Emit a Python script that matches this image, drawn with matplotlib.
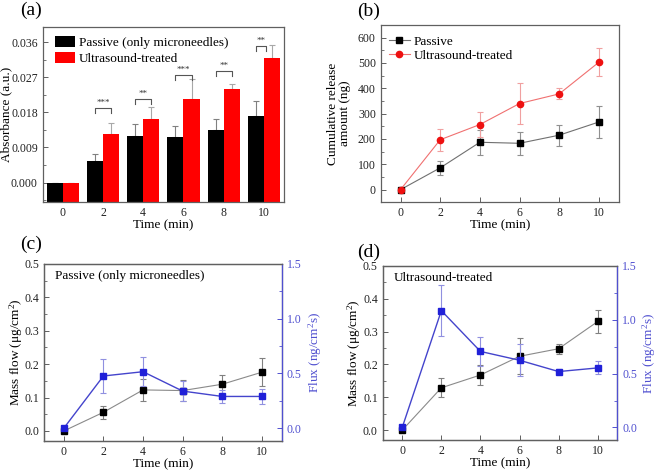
import numpy as np
import matplotlib
matplotlib.use("Agg")
import matplotlib.pyplot as plt
from matplotlib.ticker import MultipleLocator, FormatStrFormatter

plt.rcParams['font.family'] = ['Liberation Serif', 'DejaVu Serif']
plt.rcParams['mathtext.fontset'] = 'custom'
plt.rcParams['mathtext.rm'] = 'Liberation Serif'
plt.rcParams['mathtext.it'] = 'Liberation Serif:italic'
plt.rcParams['font.size'] = 8.5
plt.rcParams['xtick.direction'] = 'in'
plt.rcParams['ytick.direction'] = 'in'

# ---------------- data ----------------
time = [0, 2, 4, 6, 8, 10]
time_labels = ['0', '2', '4', '6', '8', '10']

a_passive = [0, 0.0055, 0.0119, 0.0117, 0.0136, 0.0170]
a_passive_err = [0, 0.0018, 0.0031, 0.0029, 0.0026, 0.0039]
a_us = [0, 0.0125, 0.0163, 0.0215, 0.0239, 0.0319]
a_us_err = [0, 0.0027, 0.0030, 0.0052, 0.0014, 0.0034]
sig_labels = ['', '***', '**', '***', '**', '**']
sig_heights = [None, 0.0192, 0.0214, 0.0276, 0.0286, 0.0350]

b_passive = [0, 86, 187, 183, 215, 267]
b_passive_err = [0, 27, 50, 46, 41, 63]
b_us = [0, 197, 257, 340, 378, 503]
b_us_err = [0, 44, 48, 81, 22, 56]

c_mass = [0, 0.056, 0.123, 0.121, 0.140, 0.176]
c_mass_err = [0, 0.019, 0.033, 0.032, 0.029, 0.042]
c_flux = [0, 0.477, 0.516, 0.339, 0.290, 0.290]
c_flux_err = [0, 0.156, 0.130, 0.095, 0.060, 0.070]

d_mass = [0, 0.129, 0.168, 0.225, 0.248, 0.331]
d_mass_err = [0, 0.029, 0.031, 0.055, 0.015, 0.036]
d_flux = [0, 1.085, 0.706, 0.624, 0.519, 0.553]
d_flux_err = [0, 0.240, 0.134, 0.150, 0.025, 0.060]

W, H = 657, 472
fig = plt.figure(figsize=(W / 100, H / 100), dpi=100)

def px_axes(l, t, r, b):
    return fig.add_axes([l / W, 1 - b / H, (r - l) / W, (b - t) / H])

SPINE = '#606060'
BLUE = '#2020d8'
BLUE_LINE = '#4444cc'
BLUE_AX = '#5050d0'
BLUE_ERR = '#9090e0'
LBL = 9.5
TAG = 14

def style(ax):
    for s in ax.spines.values():
        s.set_color(SPINE)
        s.set_linewidth(0.9)
    ax.tick_params(which='both', color=SPINE, labelcolor='#222222')
    ax.tick_params(which='major', length=3.5, width=0.7)
    ax.tick_params(which='minor', length=2, width=0.6)

# ---------------- (a) ----------------
ax = px_axes(42.7, 26.7, 284, 202)
ylo_a, yhi_a = -0.005, 0.040
x = np.arange(len(time))
w = 0.4
ax.bar(x - w / 2, np.array(a_passive) - ylo_a, w, bottom=ylo_a, color='black',
       label='Passive (only microneedles)', zorder=2)
ax.bar(x + w / 2, np.array(a_us) - ylo_a, w, bottom=ylo_a, color='#ff0000',
       label='Ultrasound-treated', zorder=2)
ax.errorbar(x - w / 2, a_passive, yerr=[np.zeros(len(x)), a_passive_err], fmt='none',
            ecolor='#808080', elinewidth=0.8, capsize=2.5, capthick=0.8, zorder=1)
ax.errorbar(x + w / 2, a_us, yerr=[np.zeros(len(x)), a_us_err], fmt='none',
            ecolor='#a8a8a8', elinewidth=0.8, capsize=2.5, capthick=0.8, zorder=1)
d = 0.0013
for i, (lab, hgt) in enumerate(zip(sig_labels, sig_heights)):
    if hgt is None:
        continue
    x1 = i - w / 2
    x2 = i + w / 2 if i < 5 else i + 0.05
    ax.plot([x1, x1, x2, x2], [hgt - d, hgt, hgt, hgt - d], color='#555555', lw=0.8)
    ax.text((x1 + x2) / 2, hgt + 0.0003, lab, ha='center', va='bottom', fontsize=6.5,
            color='#333333')
ax.set_xlim(-0.5, 5.5)
ax.set_ylim(ylo_a, yhi_a)
ax.set_xticks(x)
ax.set_xticklabels(time_labels)
ax.yaxis.set_major_locator(MultipleLocator(0.009))
ax.yaxis.set_minor_locator(MultipleLocator(0.0045))
ax.yaxis.set_major_formatter(FormatStrFormatter('%.3f'))
ax.set_xlabel('Time (min)', fontsize=LBL, labelpad=0)
ax.set_ylabel('Absorbance (a.u.)', fontsize=LBL)
ax.yaxis.set_label_coords(-0.128, 0.5)
style(ax)
ax.legend(loc='upper left', bbox_to_anchor=(0.02, 0.99), frameon=False, fontsize=LBL,
          handlelength=1.5, handleheight=0.9, handletextpad=0.3, labelspacing=0.2,
          borderaxespad=0.2)
fig.text(20 / W, 1 - 10 / H, '(a)', fontsize=TAG, va='center', ha='left')

# ---------------- (b) ----------------
ax = px_axes(380.7, 25, 618.7, 202.3)
ax.errorbar(time, b_passive, yerr=b_passive_err, fmt='none', ecolor='#909090',
            elinewidth=0.8, capsize=2.5, capthick=0.8, zorder=1)
ax.errorbar(time, b_us, yerr=b_us_err, fmt='none', ecolor='#f0a0a0',
            elinewidth=0.8, capsize=2.5, capthick=0.8, zorder=1)
ax.plot(time, b_passive, color='#707070', lw=0.8, marker='s', ms=4.5, mfc='black',
        mec='black', label='Passive', zorder=3)
ax.plot(time, b_us, color='#f07070', lw=0.8, marker='o', ms=4.5, mfc='#ee1010',
        mec='#ee1010', label='Ultrasound-treated', zorder=3)
ax.set_xlim(-1, 11)
ax.set_ylim(-50, 650)
ax.set_xticks(time)
ax.yaxis.set_major_locator(MultipleLocator(100))
ax.yaxis.set_minor_locator(MultipleLocator(50))
ax.set_xlabel('Time (min)', fontsize=LBL, labelpad=0)
ax.set_ylabel('Cumulative release\namount (ng)', fontsize=LBL, linespacing=1.0)
ax.yaxis.set_label_coords(-0.125, 0.5)
style(ax)
ax.legend(loc='upper left', bbox_to_anchor=(0.0, 0.985), frameon=False, fontsize=LBL,
          handlelength=1.6, handletextpad=0.3, labelspacing=0.15, borderaxespad=0.2)
fig.text(357 / W, 1 - 11 / H, '(b)', fontsize=TAG, va='center', ha='left')

# ---------------- (c), (d) ----------------
def flux_panel(box, mass, mass_err, flux, flux_err, title, tag, tagx, tagy, lx, rx):
    ax = px_axes(*box)
    ax2 = ax.twinx()
    ax.errorbar(time, mass, yerr=mass_err, fmt='none', ecolor='#808080',
                elinewidth=0.8, capsize=2.5, capthick=0.8, zorder=1)
    ax.plot(time, mass, color='#8a8a8a', lw=0.8, marker='s', ms=4, mfc='black',
            mec='black', zorder=3)
    ax2.errorbar(time, flux, yerr=flux_err, fmt='none', ecolor=BLUE_ERR,
                 elinewidth=0.8, capsize=2.5, capthick=0.8, zorder=1)
    ax2.plot(time, flux, color=BLUE_LINE, lw=1.0, marker='s', ms=4, mfc=BLUE,
             mec=BLUE, zorder=3)
    ax.set_xlim(-1, 11)
    ax.set_ylim(-0.03, 0.5)
    ax2.set_ylim(-0.117, 1.5)
    ax.set_xticks(time)
    ax.yaxis.set_major_locator(MultipleLocator(0.1))
    ax.yaxis.set_minor_locator(MultipleLocator(0.05))
    ax2.yaxis.set_major_locator(MultipleLocator(0.5))
    ax2.yaxis.set_minor_locator(MultipleLocator(0.25))
    ax.yaxis.set_major_formatter(FormatStrFormatter('%.1f'))
    ax2.yaxis.set_major_formatter(FormatStrFormatter('%.1f'))
    ax.set_xlabel('Time (min)', fontsize=LBL, labelpad=0)
    ax.set_ylabel(r'Mass flow ($\mathrm{\mu g/cm^2}$)', fontsize=LBL)
    ax.yaxis.set_label_coords(lx, 0.5)
    ax2.set_ylabel(r'Flux (ng/cm$^2$s)', fontsize=LBL, color=BLUE_AX)
    ax2.yaxis.set_label_coords(rx, 0.5)
    style(ax)
    style(ax2)
    ax2.spines['right'].set_color(BLUE_AX)
    ax2.tick_params(axis='y', which='both', color=BLUE_AX, labelcolor=BLUE_AX)
    ax.text(0.045, 0.93, title, transform=ax.transAxes, fontsize=LBL, va='center', ha='left')
    fig.text(tagx / W, 1 - tagy / H, tag, fontsize=TAG, va='center', ha='left')
    return ax

flux_panel((44, 264, 281.7, 441), c_mass, c_mass_err, c_flux, c_flux_err,
           'Passive (only microneedles)', '(c)', 20, 244, -0.08, 1.105)
flux_panel((382.7, 266, 617.3, 440), d_mass, d_mass_err, d_flux, d_flux_err,
           'Ultrasound-treated', '(d)', 357, 252, -0.084, 1.098)

fig.savefig('out.png', dpi=100)
